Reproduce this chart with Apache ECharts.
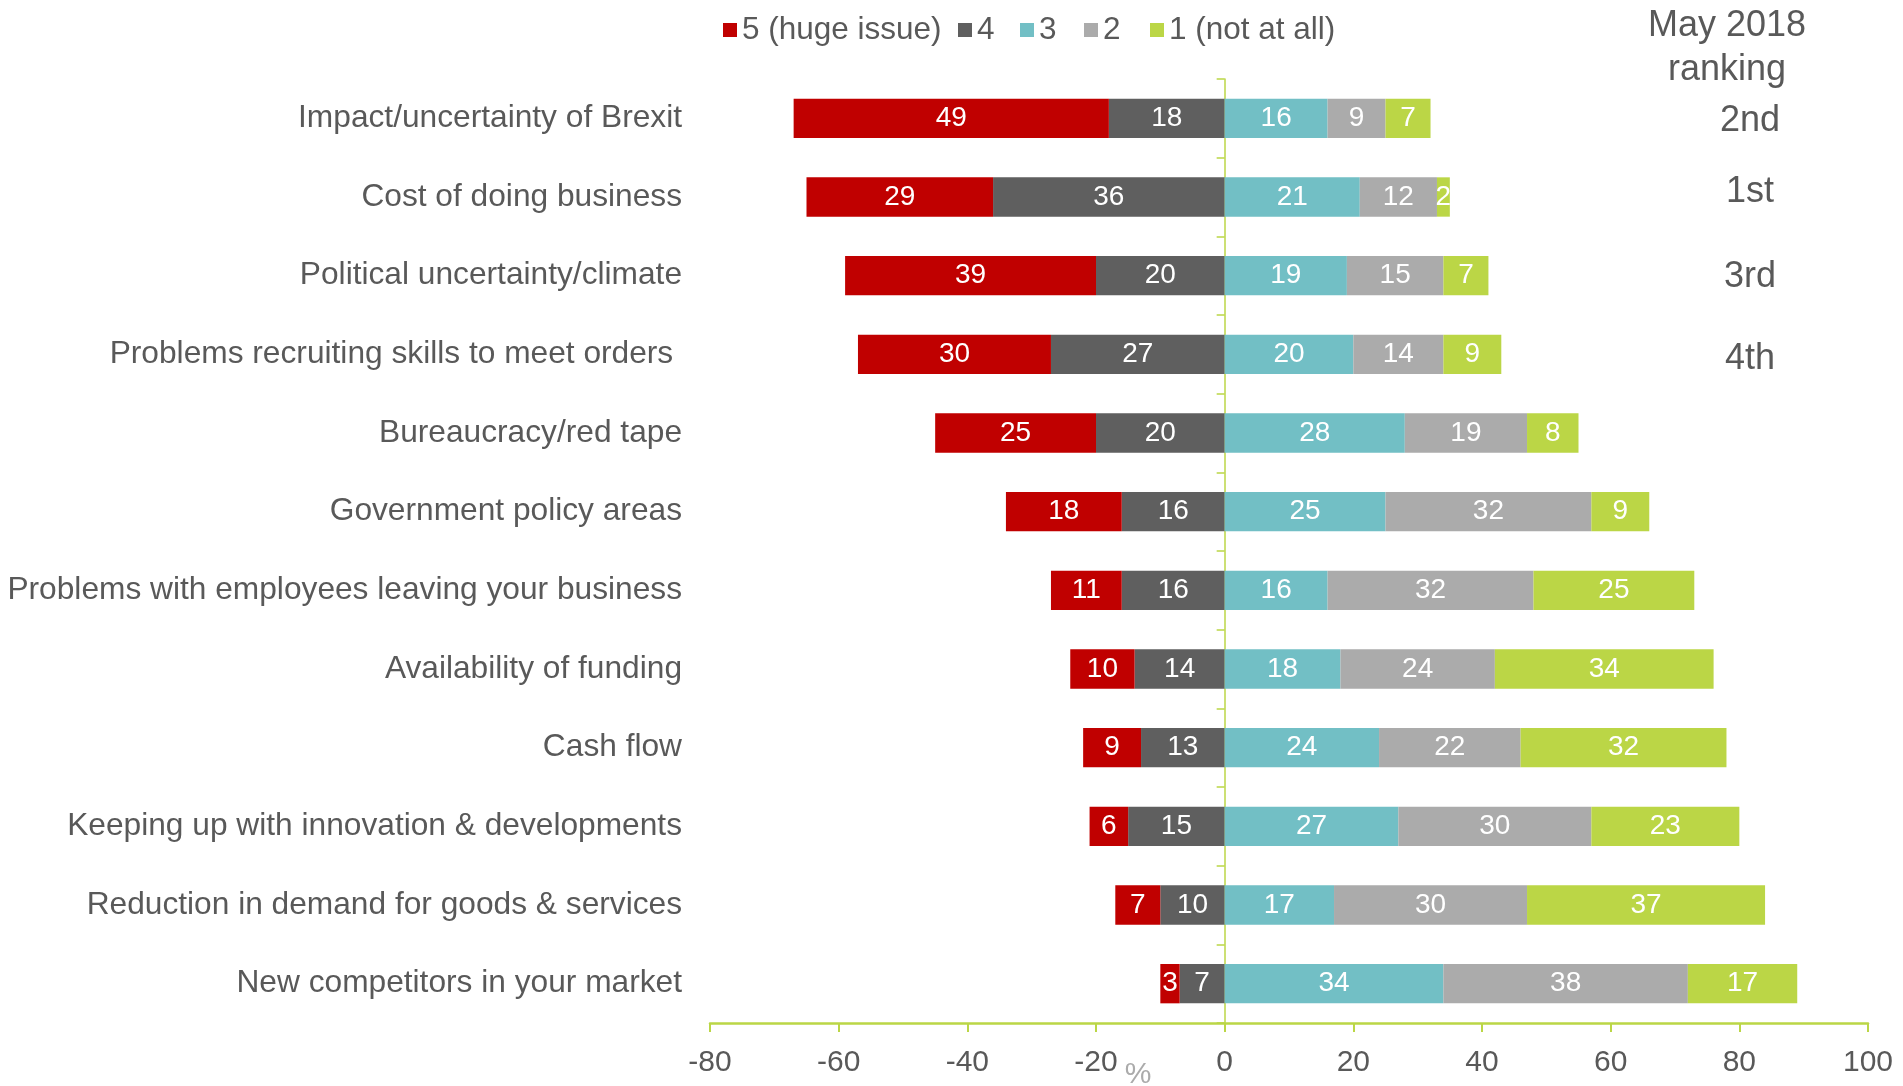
<!DOCTYPE html>
<html>
<head>
<meta charset="utf-8">
<script src="https://cdn.jsdelivr.net/npm/echarts@6/dist/echarts.min.js"></script>
<style>html,body{margin:0;padding:0;background:#fff}#c{width:1903px;height:1086px}</style>
</head>
<body>
<div id="c"></div>
<script>
const categories = [
  "Impact/uncertainty of Brexit",
  "Cost of doing business",
  "Political uncertainty/climate",
  "Problems recruiting skills to meet orders ",
  "Bureaucracy/red tape",
  "Government policy areas",
  "Problems with employees leaving your business",
  "Availability of funding",
  "Cash flow",
  "Keeping up with innovation & developments",
  "Reduction in demand for goods & services",
  "New competitors in your market"
];
const s5 = [49, 29, 39, 30, 25, 18, 11, 10, 9, 6, 7, 3];
const s4 = [18, 36, 20, 27, 20, 16, 16, 14, 13, 15, 10, 7];
const s3 = [16, 21, 19, 20, 28, 25, 16, 18, 24, 27, 17, 34];
const s2 = [9, 12, 15, 14, 19, 32, 32, 24, 22, 30, 30, 38];
const s1 = [7, 2, 7, 9, 8, 9, 25, 34, 32, 23, 37, 17];
const seriesNames = ["5 (huge issue)", "4", "3", "2", "1 (not at all)"];
const xTicks = { min: -80, max: 100, interval: 20 };
const rankings = ["2nd", "1st", "3rd", "4th"];
const rankingTitle = "May 2018\nranking";

const FONT = "Liberation Sans, Arial, sans-serif";
const TXT = "#595959";
const GREEN = "#BBD646";
const colors = { "5 (huge issue)": "#C00000", "4": "#5F5F5F", "3": "#72BFC5", "2": "#ABABAB", "1 (not at all)": "#BBD646" };
const legendLeft = [718, 953, 1015, 1079, 1145];
const rankY = [121, 192, 277, 359];

function mkSeries(name, data, negative) {
  return {
    name: name, type: "bar", stack: "total", yAxisIndex: 0,
    barWidth: "50%",
    data: negative ? data.map(v => -v) : data,
    itemStyle: { color: colors[name] },
    label: {
      show: true, position: "inside", color: "#fff", fontSize: 28, fontFamily: FONT,
      formatter: p => Math.abs(p.value)
    },
    emphasis: { disabled: true }
  };
}

const chart = echarts.init(document.getElementById("c"), null, { renderer: "canvas" });
chart.setOption({
  animation: false,
  textStyle: { fontFamily: FONT },
  legend: seriesNames.map((n, i) => ({
    data: [n], left: legendLeft[i], top: 9, itemWidth: 14, itemHeight: 14,
    icon: "rect", selectedMode: false, textStyle: { fontSize: 31.5, color: TXT, fontFamily: FONT }
  })),
  grid: { left: 710, right: 35, top: 79, bottom: 63, containLabel: false },
  xAxis: {
    type: "value", min: xTicks.min, max: xTicks.max, interval: xTicks.interval,
    axisLine: { show: true, onZero: false, lineStyle: { color: GREEN, width: 2.5 } },
    axisTick: { show: true, inside: false, length: 9, lineStyle: { color: GREEN, width: 2 } },
    axisLabel: { fontSize: 30, color: TXT, margin: 25, fontFamily: FONT },
    splitLine: { show: false }
  },
  yAxis: [
    {
      type: "category", data: categories, inverse: true,
      axisLine: { show: true, onZero: true, lineStyle: { color: GREEN, width: 1.5 } },
      axisTick: { show: true, length: 8, lineStyle: { color: GREEN, width: 1.5 } },
      axisLabel: { show: false }
    },
    {
      type: "category", data: categories, inverse: true, position: "left",
      axisLine: { show: false, onZero: false }, axisTick: { show: false },
      axisLabel: { fontSize: 31.7, color: TXT, margin: 28, fontFamily: FONT }
    }
  ],
  series: [
    mkSeries("4", s4, true),
    mkSeries("5 (huge issue)", s5, true),
    mkSeries("3", s3, false),
    mkSeries("2", s2, false),
    mkSeries("1 (not at all)", s1, false)
  ]
});

const graphics = [
  { type: "text", x: 1727, y: 48, style: { text: rankingTitle, fontSize: 36, lineHeight: 44, fill: TXT, fontFamily: FONT, align: "center", verticalAlign: "middle" } },
  { type: "text", x: 1138, y: 1075, style: { text: "%", fontSize: 30, fill: "#ABABAB", fontFamily: FONT, align: "center", verticalAlign: "middle" } }
];
rankings.forEach((r, i) => {
  graphics.push({ type: "text", x: 1750, y: rankY[i], style: { text: r, fontSize: 36, fill: TXT, fontFamily: FONT, align: "center", verticalAlign: "middle" } });
});
chart.setOption({ graphic: graphics });
</script>
</body>
</html>
